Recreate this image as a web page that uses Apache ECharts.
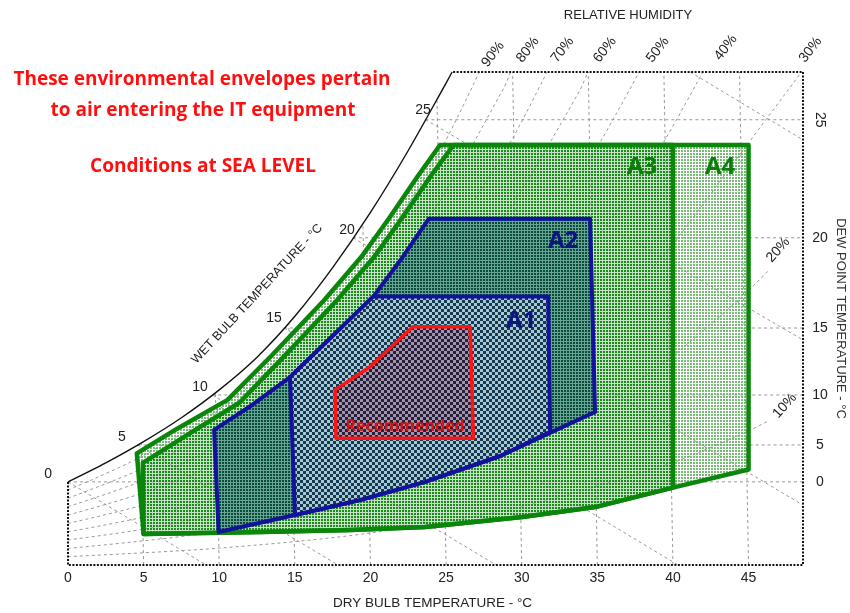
<!DOCTYPE html>
<html>
<head>
<meta charset="utf-8">
<script src="https://cdn.jsdelivr.net/npm/echarts@6/dist/echarts.min.js"></script>
<style>
  html, body { margin: 0; padding: 0; background: #ffffff; }
  #chart { width: 850px; height: 613px; }
</style>
</head>
<body>
<div id="chart"></div>
<script>
// Psychrometric chart (sea level): dry bulb temperature (°C) against humidity ratio (g/kg dry air)
const X_MAX = 48.6;
const W_MAX = 22.3;

// Saturation curve (100 % RH)
const saturation = [[0, 3.76], [2.5, 4.62], [5, 5.58], [7.5, 6.66], [10, 7.92], [12.5, 9.4],
  [15, 11.25], [17.5, 13.45], [20, 15.95], [22.5, 18.75], [25, 21.8], [25.4, 22.3]];

// Dew point lines: label, humidity ratio, start on the saturation curve
const dewPointLabels = ['0', '5', '10', '15', '20', '25'];
const dewPointW = [3.76, 5.43, 7.69, 10.72, 14.8, 20.14];
const dewPointStart = [0, 4.6, 9.54, 14.29, 18.85, 23.63];

// Wet bulb lines: start on saturation, end on the frame
const wetBulbLabels = ['0', '5', '10', '15', '20', '25'];
const wetBulbEnd = [[9.13, 0], [17.86, 0], [28.31, 0], [40.34, 0], [48.6, 2.71], [48.6, 10.18]];
const wetBulbUpper = [[41.14, 22.3], [48.6, 19.23]];

// Dry bulb lines (base and top point)
const dryBulbLines = [
  [[5, 0], [4.85, 5.5]], [[10, 0], [9.75, 7.8]], [[15, 0], [14.6, 10.9]], [[20, 0], [19.5, 15.4]],
  [[25, 0], [24.4, 21.0]], [[30, 0], [29.4, 22.3]], [[35, 0], [34.4, 22.3]],
  [[40, 0], [39.4, 22.3]], [[45, 0], [44.4, 22.3]]
];

// Relative humidity curves
const rh90 = [[0, 3.39], [4.73, 4.86], [9.62, 6.86], [14.47, 9.57], [19.27, 13.2], [24.01, 17.99], [27.2, 22.3]];
const rh80 = [[0, 3.02], [4.76, 4.32], [9.67, 6.09], [14.53, 8.49], [19.36, 11.7], [24.12, 15.96], [28.81, 21.57], [29.27, 22.3]];
const rh70 = [[0, 2.64], [4.79, 3.77], [9.71, 5.32], [14.59, 7.42], [19.44, 10.21], [24.23, 13.92], [28.97, 18.79], [31.67, 22.3]];
const rh60 = [[0, 2.26], [4.82, 3.23], [9.75, 4.56], [14.65, 6.35], [19.52, 8.74], [24.35, 11.9], [29.12, 16.04], [33.82, 21.44], [34.37, 22.3]];
const rh50 = [[0, 1.88], [4.85, 2.69], [9.79, 3.79], [14.71, 5.28], [19.6, 7.26], [24.46, 9.89], [29.27, 13.31], [34.02, 17.8], [37.77, 22.3]];
const rh40 = [[0, 1.5], [4.88, 2.15], [9.83, 3.03], [14.77, 4.22], [19.68, 5.8], [24.57, 7.88], [29.42, 10.6], [34.22, 14.13], [38.97, 18.68], [41.97, 22.3]];
const rh30 = [[0, 1.13], [4.91, 1.61], [9.88, 2.27], [14.83, 3.16], [19.76, 4.34], [24.68, 5.89], [29.56, 7.92], [34.42, 10.54], [39.24, 13.9], [44.0, 18.18], [48.5, 22.3]];
const rh20 = [[0, 0.75], [9.92, 1.51], [19.84, 2.89], [29.71, 5.26], [34.62, 6.99], [39.49, 9.2], [44.34, 11.99], [46.3, 13.3]];
const rh10 = [[0, 0.38], [9.96, 0.76], [19.92, 1.44], [29.86, 2.62], [39.75, 4.58], [44.67, 5.96], [46.4, 6.55]];
const rhCurves = [rh90, rh80, rh70, rh60, rh50, rh40, rh30, rh20, rh10];
const rhLabels = ['90%', '80%', '70%', '60%', '50%', '40%', '30%', '20%', '10%'];

// Environmental envelopes (dry bulb °C, humidity ratio g/kg)
const envelopeA4 = [[4.55, 5.05], [7.3, 6.2], [10.55, 7.47], [13.5, 9.5], [16.95, 11.99], [19.4, 13.94],
  [21.3, 15.75], [23.1, 17.56], [24.6, 19.0], [45, 19.0], [45, 4.32], [40, 3.5], [34.85, 2.62],
  [30.03, 2.17], [23.61, 1.72], [18.65, 1.58], [12.7, 1.49], [5, 1.4]];
const envelopeA3 = [[4.95, 4.62], [8.15, 6.0], [11.35, 7.35], [14.3, 9.45], [17.8, 11.99], [20.25, 13.94],
  [22.15, 15.75], [23.95, 17.56], [25.5, 19.0], [40, 19.0], [40, 3.5], [34.85, 2.62],
  [30.03, 2.17], [23.61, 1.72], [18.65, 1.58], [12.7, 1.49], [5, 1.4]];
const envelopeA2 = [[9.66, 6.11], [12.2, 7.25], [14.68, 8.5], [17.79, 10.55], [20.2, 12.15], [22.1, 13.9],
  [23.85, 15.66], [34.52, 15.66], [34.85, 6.92], [32.01, 6.02], [28.57, 4.93], [23.61, 3.76],
  [19.31, 2.94], [15.01, 2.26], [9.96, 1.49]];
const envelopeA1 = [[14.68, 8.5], [17.79, 10.55], [20.2, 12.15], [31.75, 12.15], [31.88, 6.02],
  [28.57, 4.93], [23.61, 3.76], [19.31, 2.94], [15.01, 2.26]];
const envelopeRecommended = [[17.66, 7.92], [19.97, 8.97], [22.8, 10.78], [26.59, 10.78], [26.81, 5.73], [17.72, 5.73]];

const envelopeNames = ['A1', 'A2', 'A3', 'A4', 'Recommended'];

// ---------- fill textures ----------
function dotPattern(dot, gap) {
  const c = document.createElement('canvas');
  c.width = 3; c.height = 3;
  const g = c.getContext('2d');
  if (gap) { g.fillStyle = gap; g.fillRect(0, 0, 3, 3); g.clearRect(0, 0, 2, 2); }
  g.fillStyle = dot; g.fillRect(0, 0, 2, 2);
  return { type: 'pattern', image: c, repeat: 'repeat' };
}
function checkerPattern(dark, light) {
  const c = document.createElement('canvas');
  c.width = 6; c.height = 6;
  const g = c.getContext('2d');
  g.fillStyle = light; g.fillRect(0, 0, 6, 6);
  g.fillStyle = dark; g.fillRect(0, 0, 3, 3); g.fillRect(3, 3, 3, 3);
  return { type: 'pattern', image: c, repeat: 'repeat' };
}

const GREEN = '#0a860a';
const BLUE = '#12129c';
const RED = '#ff1414';
const GRID = '#8e8e8e';

function lineSeries(data, style, z, smooth) {
  return {
    type: 'line', data: data, symbol: 'none', silent: true, clip: false, z: z || 1,
    smooth: smooth || false, lineStyle: style, animation: false
  };
}
const gridStyle = { color: GRID, width: 0.9, type: [3, 3] };

function polygonSeries(points, fill, stroke, width, z) {
  return {
    type: 'custom', coordinateSystem: 'cartesian2d', data: [[points[0][0], points[0][1]]],
    silent: true, z: z, animation: false,
    renderItem: function (params, api) {
      return {
        type: 'polygon',
        shape: { points: points.map(p => api.coord(p)) },
        style: { fill: fill, stroke: stroke, lineWidth: width, lineJoin: 'round' }
      };
    }
  };
}

// text anchored to chart coordinates; styleOf(i) gives font, colour, rotation, pixel offset
function textLayer(anchors, texts, styleOf) {
  return {
    type: 'custom', coordinateSystem: 'cartesian2d', data: anchors, silent: true,
    zlevel: 1, z: 50, animation: false, clip: false,
    renderItem: function (params, api) {
      const i = params.dataIndex;
      const s = styleOf(i);
      const p = api.coord([api.value(0), api.value(1)]);
      return {
        type: 'text', x: p[0] + (s.dx || 0), y: p[1] + (s.dy || 0),
        rotation: (s.rotate || 0) * Math.PI / 180,
        style: { text: texts[i], fill: s.color, font: s.font, opacity: 1, align: 'center', verticalAlign: 'middle' }
      };
    }
  };
}

const series = [];

// psychrometric grid
dewPointW.forEach((w, i) => series.push(lineSeries([[dewPointStart[i], w], [X_MAX, w]], gridStyle)));
wetBulbEnd.forEach((end, i) => series.push(lineSeries([[dewPointStart[i], dewPointW[i]], end], gridStyle)));
series.push(lineSeries(wetBulbUpper, gridStyle));
dryBulbLines.forEach(seg => series.push(lineSeries(seg, gridStyle)));
rhCurves.forEach(c => series.push(lineSeries(c, gridStyle, 1, 0.3)));

// envelopes
series.push(polygonSeries(envelopeA4, dotPattern('rgba(95,175,95,0.85)', null), GREEN, 4.5, 2));
series.push(polygonSeries(envelopeA3, dotPattern('rgb(30,135,30)', 'rgba(150,205,150,0.55)'), GREEN, 4.5, 3));
series.push(polygonSeries(envelopeA2, dotPattern('rgb(5,78,55)', 'rgba(90,150,140,0.85)'), BLUE, 4, 4));
series.push(polygonSeries(envelopeA1, checkerPattern('rgb(15,60,85)', 'rgb(178,196,206)'), BLUE, 4, 5));
series.push(polygonSeries(envelopeRecommended, checkerPattern('rgb(40,30,60)', 'rgb(160,150,170)'), RED, 3.5, 6));

// saturation curve and chart frame
series.push(lineSeries(saturation, { color: '#111', width: 1.4 }, 7, 0.3));
series.push(lineSeries([[0, 3.76], [0, 0], [X_MAX, 0], [X_MAX, W_MAX], [25.4, W_MAX]],
  { color: '#111', width: 2, type: [2, 1.5] }, 7));

// scale labels
const SCALE_FONT = '14px "Liberation Sans"';
const wetBulbAnchors = [[-1.32, 4.12], [3.57, 5.79], [8.73, 8.05], [13.62, 11.18], [18.45, 15.16], [23.48, 20.59]];
series.push(textLayer(wetBulbAnchors, wetBulbLabels, () => ({ color: '#222', font: SCALE_FONT })));
series.push(textLayer(dewPointW.map(w => [X_MAX, w]), dewPointLabels, i => ({
  color: '#222', font: SCALE_FONT, dx: 17, rotate: dewPointLabels[i] === '25' ? -90 : 0
})));
const rhAnchors = [[28.1, 23.1], [30.4, 23.3], [32.7, 23.3], [35.5, 23.3], [39.0, 23.3], [43.5, 23.4], [49.1, 23.3], [46.96, 14.25], [47.4, 7.2]];
series.push(textLayer(rhAnchors, rhLabels, i => ({
  color: '#222', font: '14px "Liberation Sans"', rotate: i < 7 ? 52 : 48
})));
series.push(textLayer([[12.5, 12.26]], ['WET BULB TEMPERATURE - °C'], () => ({
  color: '#222', font: '12.5px "Liberation Sans"', rotate: 47
})));

// envelope names
const nameAnchors = [[29.96, 11.04], [32.74, 14.66], [37.96, 18.0], [43.12, 18.0], [22.29, 6.25]];
series.push(textLayer(nameAnchors, envelopeNames, i => (i < 4
  ? { color: i < 2 ? '#0c1486' : '#0b7d0b', font: 'bold 24px "Open Sans"' }
  : { color: '#d41414', font: 'bold 16px "Open Sans"' })));

const chart = echarts.init(document.getElementById('chart'), null, { renderer: 'canvas' });
chart.setOption({
  animation: false,
  backgroundColor: '#ffffff',
  grid: { left: 68, right: 47, top: 72, bottom: 48, containLabel: false, outerBoundsMode: 'none' },
  xAxis: {
    type: 'value', min: 0, max: X_MAX, interval: 5,
    axisLine: { show: false }, axisTick: { show: false }, splitLine: { show: false },
    axisLabel: { showMaxLabel: false, color: '#222', fontSize: 14, fontFamily: 'Liberation Sans', margin: 6 },
    name: 'DRY BULB TEMPERATURE - °C', nameLocation: 'middle', nameGap: 31,
    nameTextStyle: { color: '#222', fontSize: 13.5, fontFamily: 'Liberation Sans', padding: [0, 6, 0, 0] }
  },
  yAxis: {
    type: 'value', min: 0, max: W_MAX, position: 'right',
    axisLine: { show: false }, axisTick: { show: false }, splitLine: { show: false },
    axisLabel: { show: false },
    name: 'DEW POINT TEMPERATURE - °C', nameLocation: 'middle', nameRotate: -90, nameGap: 31,
    nameTextStyle: { color: '#333', fontSize: 13, fontFamily: 'Liberation Sans' }
  },
  graphic: [
    { type: 'text', x: 202, y: 80, style: { text: 'These environmental envelopes pertain', fill: '#ff1010',
      font: 'bold 19px "Open Sans"', textAlign: 'center', textVerticalAlign: 'middle' } },
    { type: 'text', x: 203, y: 111, style: { text: 'to air entering the IT equipment', fill: '#ff1010',
      font: 'bold 19px "Open Sans"', textAlign: 'center', textVerticalAlign: 'middle' } },
    { type: 'text', x: 203, y: 167, style: { text: 'Conditions at SEA LEVEL', fill: '#ff1010',
      font: 'bold 19px "Open Sans"', textAlign: 'center', textVerticalAlign: 'middle' } },
    { type: 'text', x: 628, y: 15, style: { text: 'RELATIVE HUMIDITY', fill: '#222',
      font: '13px "Liberation Sans"', textAlign: 'center', textVerticalAlign: 'middle' } }
  ],
  series: series
});
</script>
</body>
</html>
